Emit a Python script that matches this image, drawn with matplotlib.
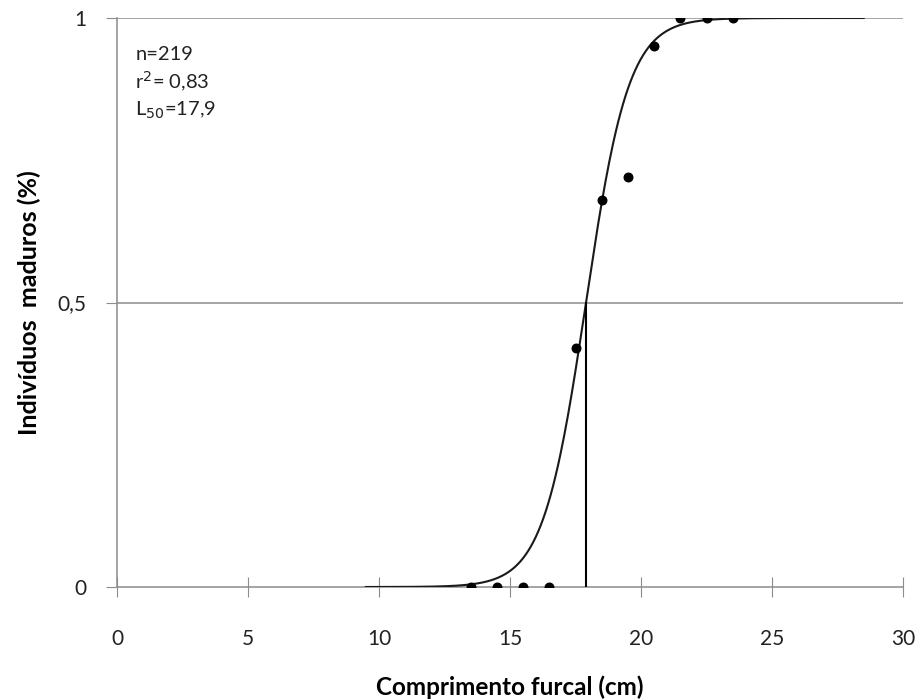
import numpy as np
import matplotlib.pyplot as plt

# observed proportion of mature individuals per length class
length_cm = [13.5, 14.5, 15.5, 16.5, 17.5, 18.5, 19.5, 20.5, 21.5, 22.5, 23.5]
prop_mature = [0, 0, 0, 0, 0.42, 0.68, 0.72, 0.95, 1, 1, 1]

# logistic fit
L50 = 17.9
slope = 1.22
fit_range = (9.5, 28.5)

x_ticks = [0, 5, 10, 15, 20, 25, 30]
y_ticks = [0, 0.5, 1]
y_tick_labels = ["0", "0,5", "1"]

plt.rcParams["font.family"] = ["Lato", "DejaVu Sans"]

fig = plt.figure(figsize=(9.19, 7.0), dpi=100)
ax = fig.add_axes([0.1273, 0.1614, 0.8553, 0.8129])

xs = np.linspace(fit_range[0], fit_range[1], 400)
ys = 1 / (1 + np.exp(-slope * (xs - L50)))

ax.axhline(0.5, color="#8c8c8c", lw=1.1, zorder=1)
ax.axhline(1, color="#8c8c8c", lw=1.1, zorder=1)
ax.plot(xs, ys, color="#1a1a1a", lw=1.5, zorder=3)
ax.plot([L50, L50], [0, 0.5], color="black", lw=1.5, zorder=3)
ax.scatter(length_cm, prop_mature, s=38, color="black", zorder=4)

ax.set_xlim(0, 30)
ax.set_ylim(0, 1)
ax.set_xticks(x_ticks)
ax.set_xticklabels([str(t) for t in x_ticks])
ax.set_yticks(y_ticks)
ax.set_yticklabels(y_tick_labels)

for s in ["top", "right"]:
    ax.spines[s].set_visible(False)
ax.spines["left"].set_color("#8c8c8c")
ax.spines["bottom"].set_color("#8c8c8c")
ax.spines["left"].set_linewidth(1.1)
ax.spines["bottom"].set_linewidth(1.1)
ax.tick_params(axis="x", direction="inout", length=14, color="#8c8c8c",
               labelsize=15, pad=23, labelcolor="#222222")
ax.tick_params(axis="y", direction="out", length=8, color="#8c8c8c",
               labelsize=15, pad=14, labelcolor="#222222")

ax.set_xlabel("Comprimento furcal (cm)", fontsize=17.5, fontweight="bold", labelpad=19)
ax.set_ylabel("Indivíduos  maduros (%)", fontsize=18, fontweight="bold", labelpad=12)

ax.text(0.7, 0.95, "n=219\nr$^2$= 0,83\nL$_{50}$=17,9", fontsize=14.5,
        va="top", ha="left", linespacing=1.35, color="#222222")

fig.savefig("out.png", dpi=100)
